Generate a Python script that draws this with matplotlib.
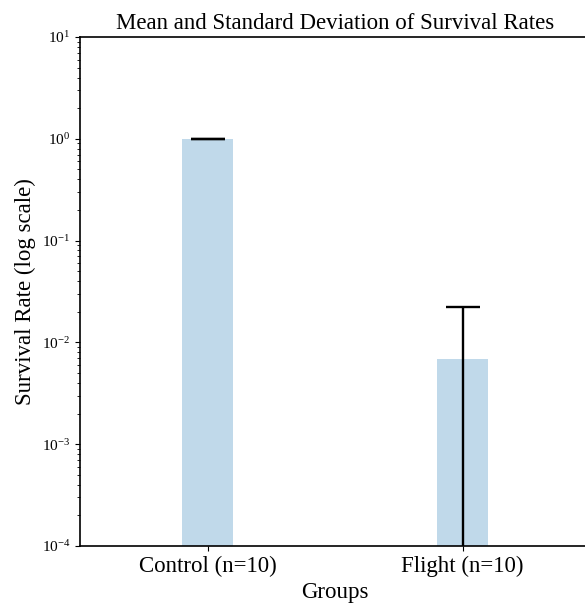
import matplotlib
matplotlib.use('Agg')
import matplotlib.pyplot as plt
import numpy as np

# values
groups = ['Control (n=10)', 'Flight (n=10)']
means = [1.0, 0.0069]
stds = [0.004, 0.0154]

plt.rcParams['font.family'] = ['Liberation Serif', 'DejaVu Serif']
plt.rcParams['mathtext.fontset'] = 'custom'
plt.rcParams['mathtext.rm'] = 'Liberation Serif'
plt.rcParams['mathtext.it'] = 'Liberation Serif:italic'
plt.rcParams['axes.linewidth'] = 1.2

fig = plt.figure(figsize=(5.85, 6.05), dpi=100)
ax = fig.add_axes([80 / 585, 59 / 605, 510 / 585, 509 / 605])

x = np.arange(len(groups))
ax.bar(x, means, width=0.2, color='tab:blue', alpha=0.28,
       yerr=stds, capsize=12, error_kw={'elinewidth': 1.7, 'capthick': 1.7, 'ecolor': 'black'})

ax.set_yscale('log')
ax.set_ylim(1e-4, 1e1)
ax.set_xlim(-0.5, 1.5)
ax.set_xticks(x)
ax.set_xticklabels(groups, fontsize=16.5)
ax.tick_params(axis='y', labelsize=11)
ax.set_xlabel('Groups', fontsize=16.5)
ax.set_ylabel('Survival Rate (log scale)', fontsize=16.5)
ax.set_title('Mean and Standard Deviation of Survival Rates', fontsize=16.5)

fig.savefig('out.png', dpi=100)
